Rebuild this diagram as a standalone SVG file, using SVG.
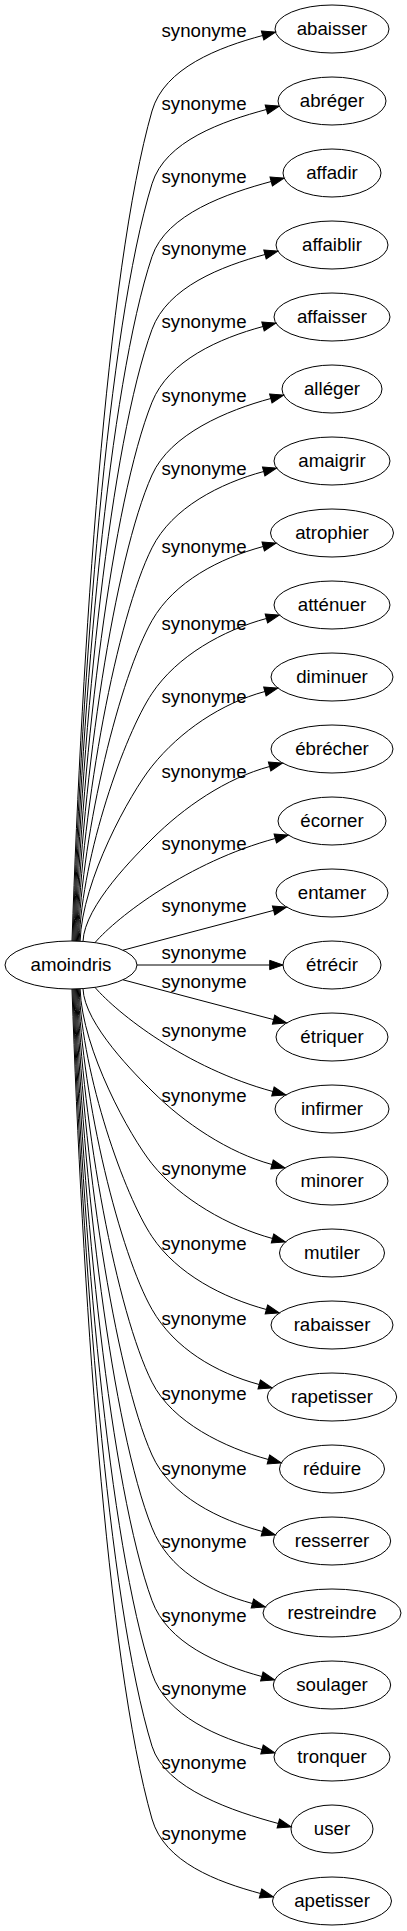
<svg xmlns="http://www.w3.org/2000/svg" width="407" height="1931" viewBox="0 0 407 1931">
<style>
.n ellipse{fill:none;stroke:#000;stroke-width:1}
text{font-family:"Liberation Sans",Arial,sans-serif;font-size:18.67px;fill:#000;text-anchor:middle}
#edges path{fill:none;stroke:#000;stroke-width:1;marker-end:url(#ah)}
</style>
<defs>
<marker id="ah" markerUnits="userSpaceOnUse" markerWidth="14" markerHeight="10" refX="0" refY="5" orient="auto" overflow="visible"><path d="M0,0.33 L13.3,5 L0,9.67 z" fill="#000" stroke="#000" stroke-width="1"/></marker>
</defs>
<rect width="407" height="1931" fill="#fff"/>
<g id="edges">
<path d="M72,941 C82,650.5 106.4,270.6 152,111 C164.4,67.7 219.2,47.2 262.6,35.5"/>
<path d="M72.9,941 C82,676 107.5,328.5 152,183.8 C165.2,140.8 223,121.2 266.4,109.5"/>
<path d="M73.8,941 C82,701.5 108.7,386.5 152,256.6 C166.2,213.9 227.8,193.2 271.2,181.5"/>
<path d="M74.7,941 C82,726.9 110.2,444.3 152,329.4 C167.4,287.1 221.6,266.2 265,254.5"/>
<path d="M75.6,941 C82.1,752.4 112,502.3 152,402.2 C168.7,360.4 219.6,338.2 263,326.5"/>
<path d="M76.5,941 C82.1,777.9 114.1,560.2 152,475 C170.3,433.9 227.4,410.2 270.8,398.5"/>
<path d="M77.4,941 C82.1,803.4 116.8,618.1 152,547.8 C172.1,507.6 220.3,483.2 263.7,471.5"/>
<path d="M78.3,941 C82.1,828.9 120.2,676.3 152,620.6 C174.3,581.5 219.8,558.2 263.2,546.5"/>
<path d="M79.2,941 C82.2,854.3 124.5,734.6 152,693.4 C177,656 223,630.2 266.4,618.5"/>
<path d="M80.1,941 C82.2,879.8 130.1,793.5 152,766.2 C180.1,731.1 221.5,703.2 264.9,691.5"/>
<path d="M83,941.4 C84.2,905.6 137.5,853.5 152,839 C183.8,807.2 226.2,778.2 269.6,766.5"/>
<path d="M95,942.6 C117,917 188.4,861.9 275.3,838.5"/>
<path d="M123,950.2 C173,937 223,923.7 273.6,910.4"/>
<path d="M137,965 L269.7,965"/>
<path d="M123,979.8 C173,993 223,1006.4 273.6,1019.6"/>
<path d="M95,987.4 C117,1013 186,1068.1 272.9,1091.5"/>
<path d="M83,988.6 C84.2,1024.4 137.5,1076.5 152,1091 C183.8,1122.8 228.6,1152.8 272,1164.5"/>
<path d="M80.1,989 C82.2,1050.2 130.1,1136.5 152,1163.8 C180.1,1198.9 229.1,1226.8 272.5,1238.5"/>
<path d="M79.2,989 C82.2,1075.7 124.5,1195.4 152,1236.6 C177,1274 223,1297.8 266.4,1309.5"/>
<path d="M78.3,989 C82.1,1101.1 120.2,1253.7 152,1309.4 C174.3,1348.5 215.8,1372.8 259.2,1384.5"/>
<path d="M77.4,989 C82.1,1126.6 116.8,1311.9 152,1382.2 C172.1,1422.4 225,1447.8 268.4,1459.5"/>
<path d="M76.5,989 C82.1,1152.1 114.1,1369.8 152,1455 C170.3,1496.1 219,1519.8 262.4,1531.5"/>
<path d="M75.6,989 C82.1,1177.6 112,1427.7 152,1527.8 C168.7,1569.6 209,1591.8 252.4,1603.5"/>
<path d="M74.7,989 C82,1203.1 110.2,1485.7 152,1600.6 C167.4,1642.9 218.4,1664.8 261.8,1676.5"/>
<path d="M73.8,989 C82,1228.5 108.7,1543.5 152,1673.4 C166.2,1716.1 218.6,1737.8 262,1749.5"/>
<path d="M72.9,989 C82,1254 107.5,1601.5 152,1746.2 C165.2,1789.2 234.9,1811.8 278.3,1823.5"/>
<path d="M72,989 C82,1279.5 106.4,1659.4 152,1819 C164.4,1862.3 217.1,1881.8 260.5,1893.5"/>
</g>
<g id="edge-labels">
<text x="204" y="37">synonyme</text>
<text x="204" y="110">synonyme</text>
<text x="204" y="183">synonyme</text>
<text x="204" y="255">synonyme</text>
<text x="204" y="328">synonyme</text>
<text x="204" y="402">synonyme</text>
<text x="204" y="475">synonyme</text>
<text x="204" y="553">synonyme</text>
<text x="204" y="630">synonyme</text>
<text x="204" y="703">synonyme</text>
<text x="204" y="778">synonyme</text>
<text x="204" y="850">synonyme</text>
<text x="204" y="912">synonyme</text>
<text x="204" y="959">synonyme</text>
<text x="204" y="988">synonyme</text>
<text x="204" y="1037">synonyme</text>
<text x="204" y="1102">synonyme</text>
<text x="204" y="1175">synonyme</text>
<text x="204" y="1250">synonyme</text>
<text x="204" y="1325">synonyme</text>
<text x="204" y="1400">synonyme</text>
<text x="204" y="1475">synonyme</text>
<text x="204" y="1548">synonyme</text>
<text x="204" y="1622">synonyme</text>
<text x="204" y="1695">synonyme</text>
<text x="204" y="1769">synonyme</text>
<text x="204" y="1840">synonyme</text>
</g>
<g id="amoindris" class="n"><ellipse cx="71" cy="965" rx="66" ry="24"/><text x="71" y="971">amoindris</text></g>
<g id="abaisser" class="n"><ellipse cx="332" cy="29" rx="57" ry="24"/><text x="332" y="35">abaisser</text></g>
<g id="abreger" class="n"><ellipse cx="332" cy="101" rx="54" ry="24"/><text x="332" y="107">abréger</text></g>
<g id="affadir" class="n"><ellipse cx="332" cy="173" rx="49" ry="24"/><text x="332" y="179">affadir</text></g>
<g id="affaiblir" class="n"><ellipse cx="332" cy="245" rx="56" ry="24"/><text x="332" y="251">affaiblir</text></g>
<g id="affaisser" class="n"><ellipse cx="332" cy="317" rx="58" ry="24"/><text x="332" y="323">affaisser</text></g>
<g id="alleger" class="n"><ellipse cx="332" cy="389" rx="50" ry="24"/><text x="332" y="395">alléger</text></g>
<g id="amaigrir" class="n"><ellipse cx="332" cy="461" rx="58" ry="24"/><text x="332" y="467">amaigrir</text></g>
<g id="atrophier" class="n"><ellipse cx="332" cy="533" rx="61.5" ry="24"/><text x="332" y="539">atrophier</text></g>
<g id="attenuer" class="n"><ellipse cx="332" cy="605" rx="58" ry="24"/><text x="332" y="611">atténuer</text></g>
<g id="diminuer" class="n"><ellipse cx="332" cy="677" rx="61" ry="24"/><text x="332" y="683">diminuer</text></g>
<g id="ebrecher" class="n"><ellipse cx="332" cy="749" rx="61" ry="24"/><text x="332" y="755">ébrécher</text></g>
<g id="ecorner" class="n"><ellipse cx="332" cy="821" rx="54" ry="24"/><text x="332" y="827">écorner</text></g>
<g id="entamer" class="n"><ellipse cx="332" cy="893" rx="56" ry="24"/><text x="332" y="899">entamer</text></g>
<g id="etrecir" class="n"><ellipse cx="332" cy="965" rx="49" ry="24"/><text x="332" y="971">étrécir</text></g>
<g id="etriquer" class="n"><ellipse cx="332" cy="1037" rx="56" ry="24"/><text x="332" y="1043">étriquer</text></g>
<g id="infirmer" class="n"><ellipse cx="332" cy="1109" rx="57" ry="24"/><text x="332" y="1115">infirmer</text></g>
<g id="minorer" class="n"><ellipse cx="332" cy="1181" rx="56" ry="24"/><text x="332" y="1187">minorer</text></g>
<g id="mutiler" class="n"><ellipse cx="332" cy="1253" rx="52.5" ry="24"/><text x="332" y="1259">mutiler</text></g>
<g id="rabaisser" class="n"><ellipse cx="332" cy="1325" rx="61" ry="24"/><text x="332" y="1331">rabaisser</text></g>
<g id="rapetisser" class="n"><ellipse cx="332" cy="1397" rx="64.7" ry="24"/><text x="332" y="1403">rapetisser</text></g>
<g id="reduire" class="n"><ellipse cx="332" cy="1469" rx="52.5" ry="24"/><text x="332" y="1475">réduire</text></g>
<g id="resserrer" class="n"><ellipse cx="332" cy="1541" rx="58.7" ry="24"/><text x="332" y="1547">resserrer</text></g>
<g id="restreindre" class="n"><ellipse cx="332" cy="1613" rx="69" ry="24"/><text x="332" y="1619">restreindre</text></g>
<g id="soulager" class="n"><ellipse cx="332" cy="1685" rx="58.7" ry="24"/><text x="332" y="1691">soulager</text></g>
<g id="tronquer" class="n"><ellipse cx="332" cy="1757" rx="58" ry="24"/><text x="332" y="1763">tronquer</text></g>
<g id="user" class="n"><ellipse cx="332" cy="1829" rx="41" ry="24"/><text x="332" y="1835">user</text></g>
<g id="apetisser" class="n"><ellipse cx="332" cy="1901" rx="59.5" ry="24"/><text x="332" y="1907">apetisser</text></g>
</svg>
